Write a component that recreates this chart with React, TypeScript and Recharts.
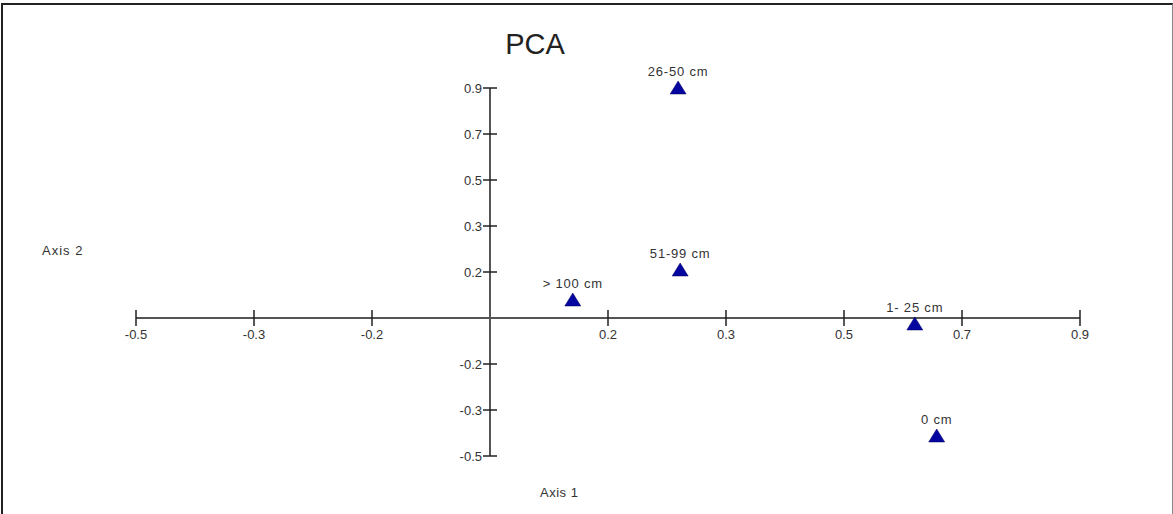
import {
    ScatterChart,
    Scatter,
    XAxis,
    YAxis,
    ReferenceLine,
    ReferenceDot
} from "recharts";

// PCA scores (axis 1, axis 2)
const samples = ["26-50 cm", "51-99 cm", "> 100 cm", "1- 25 cm", "0 cm"];
const axis1 = [0.275, 0.278, 0.121, 0.621, 0.653];
const axis2 = [0.8625, 0.18, 0.0675, -0.0225, -0.4425];

// tick positions and the (rounded) labels the original program printed
const xTicks = [-0.5175, -0.345, -0.1725, 0.1725, 0.345, 0.5175, 0.69, 0.8625];
const xTickLabels = ["-0.5", "-0.3", "-0.2", "0.2", "0.3", "0.5", "0.7", "0.9"];
const yTicks = [0.8625, 0.69, 0.5175, 0.345, 0.1725, -0.1725, -0.345, -0.5175];
const yTickLabels = ["0.9", "0.7", "0.5", "0.3", "0.2", "-0.2", "-0.3", "-0.5"];

const data = samples.map((name, i) => ({ name, x: axis1[i], y: axis2[i] }));

const axisColor = "#555";
const textColor = "#333";
const font = "Arial, 'Liberation Sans', sans-serif";

function Triangle(props: any) {
    const { cx, cy, payload } = props;
    return (
        <g>
            <polygon
                points={`${cx - 8},${cy + 6} ${cx + 8},${cy + 6} ${cx},${cy - 7}`}
                fill="#0505a0"
                stroke="#000060"
                strokeWidth={0.5}
            />
            <text
                x={cx}
                y={cy - 12}
                textAnchor="middle"
                fontSize={13}
                letterSpacing={0.8}
                fontFamily={font}
                fill={textColor}
            >
                {payload.name}
            </text>
        </g>
    );
}

function XTick(label: string) {
    return (props: any) => {
        const { cx, cy } = props;
        return (
            <g>
                <line x1={cx} y1={cy - 8} x2={cx} y2={cy + 8} stroke="#222" strokeWidth={1.5} />
                <text x={cx} y={cy + 21} textAnchor="middle" fontSize={13} fontFamily={font} fill={textColor}>
                    {label}
                </text>
            </g>
        );
    };
}

function YTick(label: string) {
    return (props: any) => {
        const { cx, cy } = props;
        return (
            <g>
                <line x1={cx - 7} y1={cy} x2={cx + 7} y2={cy} stroke="#222" strokeWidth={1.5} />
                <text x={cx - 8} y={cy + 5} textAnchor="end" fontSize={13} fontFamily={font} fill={textColor}>
                    {label}
                </text>
            </g>
        );
    };
}

export default function App() {
    return (
        <div style={{ position: "absolute", left: 0, top: 0, width: 1173, height: 514, background: "#fff", overflow: "hidden" }}>
            <div
                style={{
                    position: "absolute",
                    left: 1,
                    top: 3,
                    width: 1172,
                    height: 530,
                    boxSizing: "border-box",
                    borderTop: "2px solid #222",
                    borderLeft: "2px solid #222",
                    borderRight: "1px solid #888"
                }}
            />
            <div style={{ position: "absolute", left: 490, width: 90, top: 28, textAlign: "center", fontFamily: font, fontSize: 29, color: "#222" }}>
                PCA
            </div>
            <div style={{ position: "absolute", left: 42, top: 243, fontFamily: font, fontSize: 13, letterSpacing: 1, color: textColor }}>
                Axis 2
            </div>
            <div style={{ position: "absolute", left: 540, top: 485, fontFamily: font, fontSize: 13, letterSpacing: 0.5, color: textColor }}>
                Axis 1
            </div>
            <div style={{ position: "absolute", left: 0, top: 0 }}>
                <ScatterChart width={1173} height={514} margin={{ top: 65, right: 34, bottom: 12, left: 18 }}>
                    <XAxis type="number" dataKey="x" domain={[-0.69, 0.94875]} hide allowDataOverflow />
                    <YAxis type="number" dataKey="y" domain={[-0.69, 0.94875]} hide allowDataOverflow />

                    <ReferenceLine
                        segment={[{ x: xTicks[0], y: 0 }, { x: xTicks[xTicks.length - 1], y: 0 }]}
                        stroke={axisColor}
                        strokeWidth={2}
                    />
                    <ReferenceLine
                        segment={[{ x: 0, y: yTicks[yTicks.length - 1] }, { x: 0, y: yTicks[0] }]}
                        stroke={axisColor}
                        strokeWidth={2}
                    />

                    {xTicks.map((t, i) => (
                        <ReferenceDot key={"x" + i} x={t} y={0} r={0} shape={XTick(xTickLabels[i])} />
                    ))}
                    {yTicks.map((t, i) => (
                        <ReferenceDot key={"y" + i} x={0} y={t} r={0} shape={YTick(yTickLabels[i])} />
                    ))}

                    <Scatter data={data} shape={Triangle} isAnimationActive={false} />
                </ScatterChart>
            </div>
        </div>
    );
}
